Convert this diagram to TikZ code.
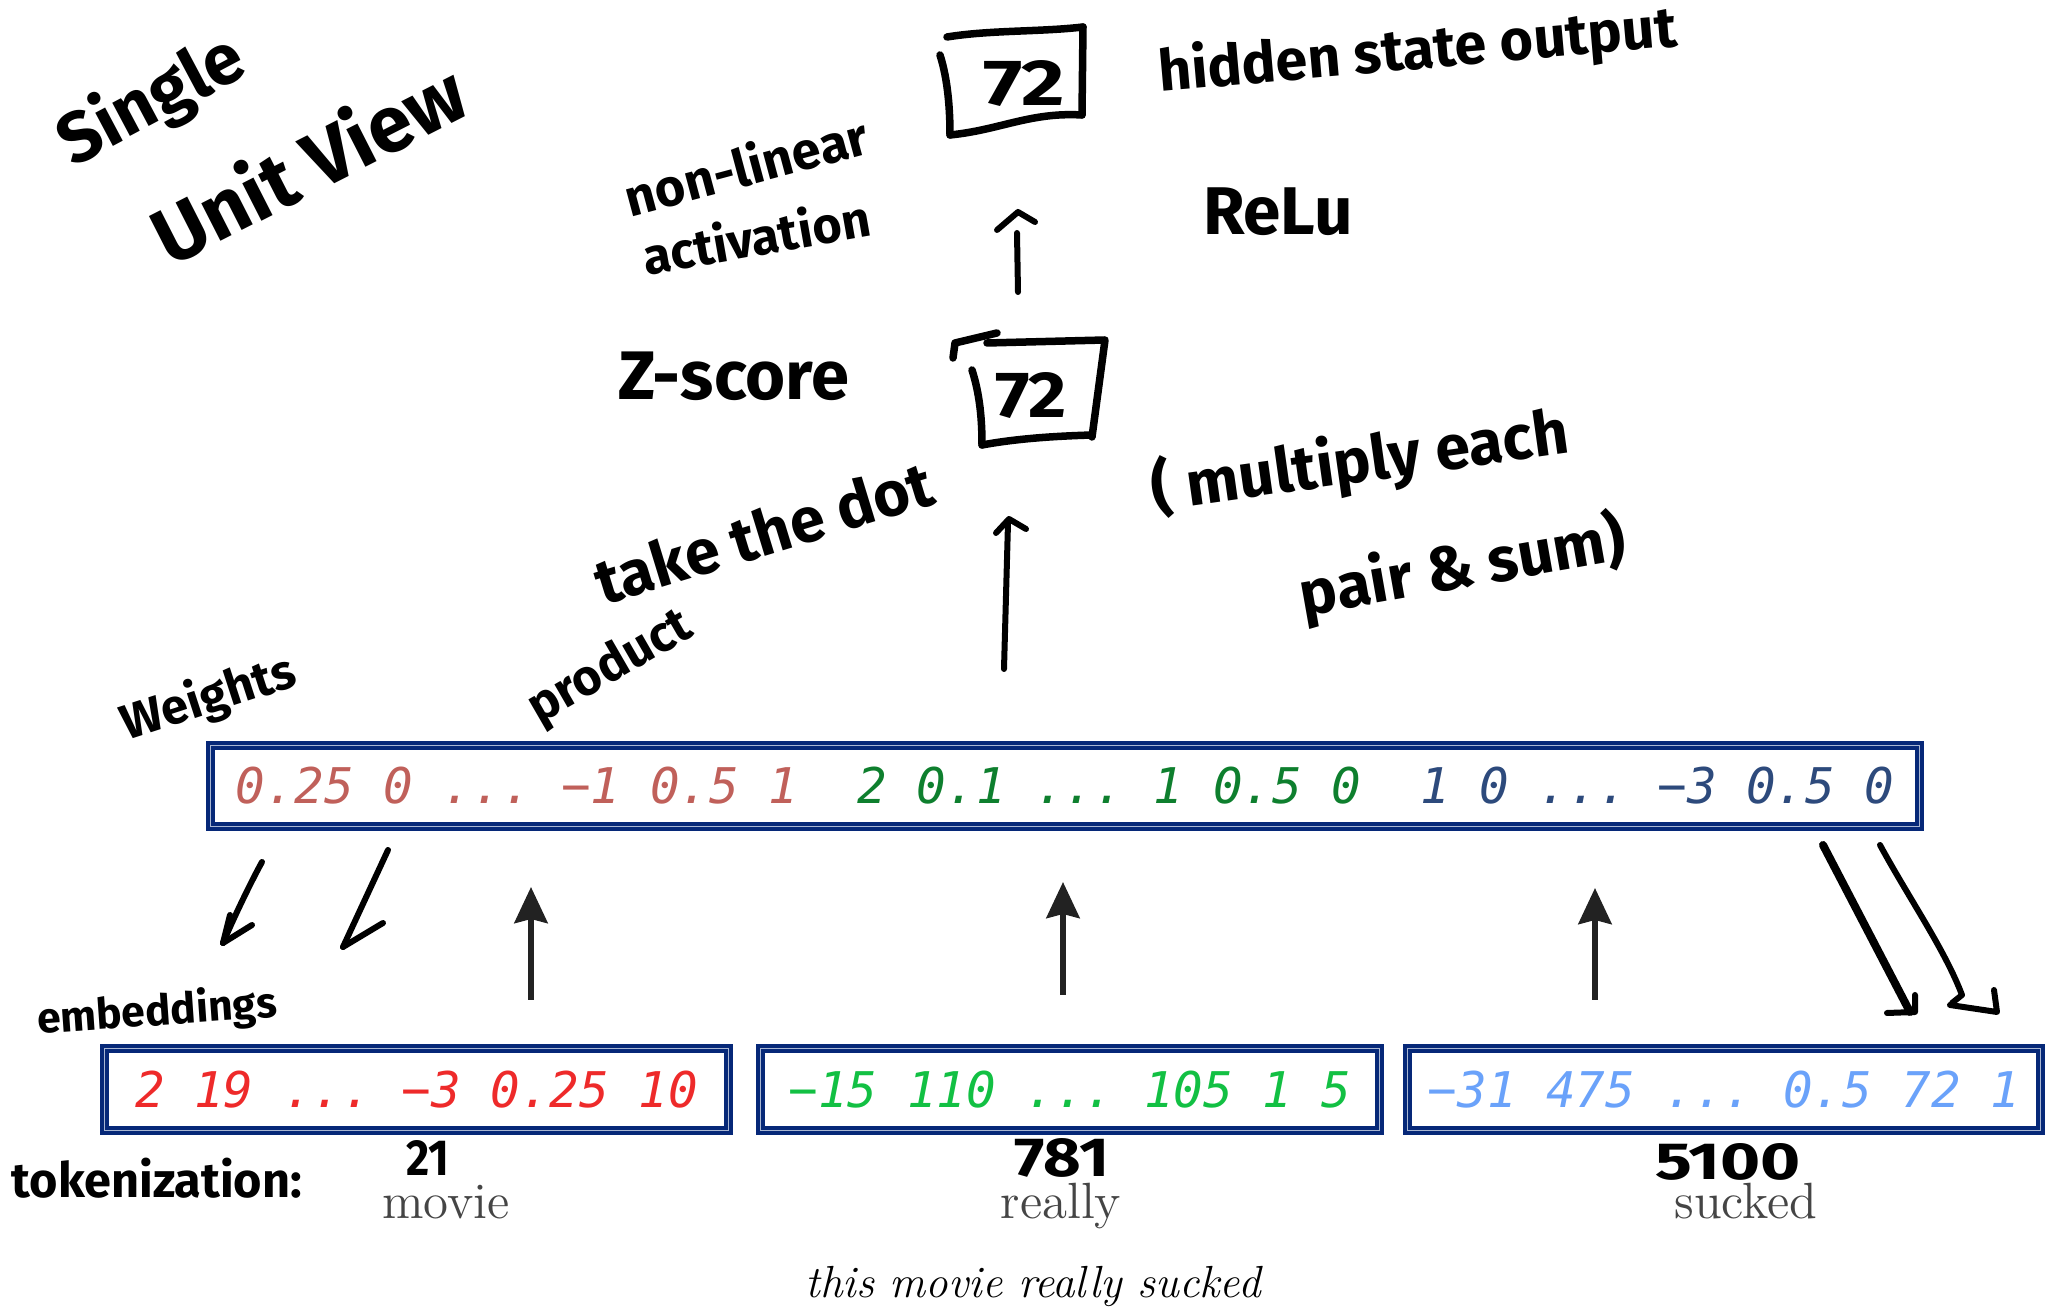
\documentclass[tikz,border=0pt]{standalone}
\usepackage{fontspec}
\usepackage{graphicx}
\usetikzlibrary{arrows.meta}
\newfontfamily\codefont{DejaVu Sans Mono}
\newfontfamily\handfont{Fira Sans}
\definecolor{navy}{HTML}{062878}
\definecolor{innerline}{HTML}{A8B6D2}
\definecolor{wA}{HTML}{C0605A}
\definecolor{wB}{HTML}{0E7F2E}
\definecolor{wC}{HTML}{2D4A7C}
\definecolor{eA}{HTML}{EE2A2A}
\definecolor{eB}{HTML}{12C043}
\definecolor{eC}{HTML}{6AA2FA}
\definecolor{wordgray}{HTML}{454545}
\definecolor{arrowgray}{HTML}{222222}
\frenchspacing
\tikzset{
  vecbox/.style={draw=navy, line width=0.9mm, inner sep=0pt,
    font=\codefont\itshape\fontsize{14pt}{16pt}\selectfont},
  innerrule/.style={draw=innerline, line width=0.12mm},
  hand/.style={font=\handfont\bfseries, inner sep=0pt, text=black},
  handline/.style={line width=0.6mm, line cap=round, line join=round},
  boxline/.style={line width=0.75mm, line cap=round, line join=round},
  embarrow/.style={draw=arrowgray, line width=0.6mm,
    -{Stealth[length=3.6mm,width=3.3mm,inset=0.4mm]}},
  word/.style={text=wordgray, font=\fontsize{14.5pt}{17pt}\selectfont, inner sep=0pt}
}
\begin{document}
\begin{tikzpicture}[x=0.1mm,y=-0.1mm]
\useasboundingbox (0,0) rectangle (2049,1313);
\fill[white] (0,0) rectangle (2049,1313);

% weights vector
\node[vecbox, minimum width=171.0mm, minimum height=8.15mm] (W) at (1065,786)
  {{\color{wA}0.25 0 ... −1 0.5 1}~~{\color{wB}2 0.1 ... 1 0.5 0}~~{\color{wC}1 0 ... −3 0.5 0}};

% embedding vectors
\node[vecbox, minimum width=62.4mm, minimum height=8.2mm, text=eA] (E1) at (416.5,1089.5)
  {2 19 ... −3 0.25 10};
\node[vecbox, minimum width=61.9mm, minimum height=8.2mm, text=eB] (E2) at (1070,1089.5)
  {−15 110 ... 105 1 5};
\node[vecbox, minimum width=63.3mm, minimum height=8.2mm, text=eC] (E3) at (1724,1089.5)
  {−31 475 ... 0.5 72 1};
\foreach \b in {W,E1,E2,E3}
  \draw[innerrule] ([shift={(4.8,4.8)}]\b.north west) rectangle ([shift={(-4.8,-4.8)}]\b.south east);

% printed arrows from embeddings to weights
\coordinate (a1s) at (531,1000);  \coordinate (a1e) at (531,887);
\coordinate (a2s) at (1063,995);  \coordinate (a2e) at (1063,882);
\coordinate (a3s) at (1595,1000); \coordinate (a3e) at (1595,888);
\draw[embarrow] (a1s) -- (a1e);
\draw[embarrow] (a2s) -- (a2e);
\draw[embarrow] (a3s) -- (a3e);

% words
\node[word, anchor=base] (wmovie) at (446,1219) {movie};
\node[word, anchor=base] (wreally) at (1061,1219) {really};
\node[word, anchor=base] (wsucked) at (1746,1219) {sucked};
\node[anchor=base, inner sep=0pt, font=\itshape\fontsize{12.8pt}{15pt}\selectfont] (sent) at (1033,1298)
  {this movie really sucked};

% handwritten labels
\node[hand, rotate=28] (single) at (152,102) {\resizebox{20mm}{!}{Single}};
\node[hand, rotate=27] (unitview) at (308,162) {\resizebox{34mm}{!}{Unit View}};
\node[hand, rotate=15] (nonlinear) at (746,165) {\resizebox{25mm}{!}{non-linear}};
\node[hand, rotate=10] (activation) at (756,236) {\resizebox{23mm}{!}{activation}};
\node[hand, rotate=5] (hidden) at (1418,52) {\resizebox{52mm}{!}{hidden state output}};
\node[hand] (relu) at (1278,212) {\resizebox{15mm}{!}{ReLu}};
\node[hand] (zscore) at (734,376) {\resizebox{23mm}{!}{Z-score}};
\node[hand, rotate=8] (multiply) at (1360,462) {\resizebox{42mm}{!}{( multiply each}};
\node[hand, rotate=10] (pairsum) at (1463,568) {\resizebox{33mm}{!}{pair \& sum)}};
\node[hand, rotate=17] (takedot) at (764,532) {\resizebox{35mm}{!}{take the dot}};
\node[hand, rotate=30] (product) at (611,668) {\resizebox{18mm}{!}{product}};
\node[hand, rotate=18] (weights) at (209,699) {\resizebox{18mm}{!}{Weights}};
\node[hand, rotate=4] (embeddings) at (157,1013) {\resizebox{24mm}{!}{embeddings}};
\node[hand] (tokenization) at (157,1178) {\resizebox{29mm}{!}{tokenization:}};
\node[hand] (t21) at (428,1158) {\resizebox{4.3mm}{3.5mm}{21}};
\node[hand] (t781) at (1062,1158) {\resizebox{9.5mm}{3.8mm}{781}};
\node[hand] (t5100) at (1728,1162) {\resizebox{14.5mm}{3.6mm}{5100}};

% hidden state box
\node[hand] (h72) at (1024,84) {\resizebox{8.2mm}{4.5mm}{72}};
\draw[boxline] (947,37) .. controls (990,30) and (1040,32) .. (1083,27);
\draw[boxline] (1083,27) -- (1082,115);
\draw[boxline] (940,55) .. controls (948,80) and (950,110) .. (950,135);
\draw[boxline] (950,135) .. controls (1000,130) and (1030,112) .. (1082,115);

% z-score box
\node[hand] (z72) at (1031,396) {\resizebox{7.2mm}{4.5mm}{72}};
\draw[boxline] (953,358) -- (955,343) -- (997,333);
\draw[boxline] (987,343) -- (1105,340) -- (1092,437);
\draw[boxline] (972,370) .. controls (980,395) and (982,420) .. (982,445);
\draw[boxline] (982,445) .. controls (1020,438) and (1060,436) .. (1092,435);

% handwritten up arrows
\coordinate (u1s) at (1018,292); \coordinate (u1e) at (1017,233);
\draw[handline] (u1s) -- (u1e);
\draw[handline] (997,230) -- (1018,212) -- (1035,222);
\coordinate (u2s) at (1004,669); \coordinate (u2e) at (1008,523);
\draw[handline] (u2s) -- (u2e);
\draw[handline] (996,533) -- (1009,519) -- (1026,529);

% handwritten down-left arrows
\coordinate (l1s) at (262,862); \coordinate (l1e) at (223,943);
\draw[handline] (l1s) .. controls (252,880) and (235,915) .. (l1e);
\draw[handline] (l1e) -- (252,925);
\draw[handline] (230,915) -- (l1e);
\coordinate (l2s) at (388,850); \coordinate (l2e) at (343,947);
\draw[handline] (l2s) -- (l2e);
\draw[handline] (l2e) -- (383,923);

% handwritten down-right arrows
\coordinate (r1s) at (1823,845); \coordinate (r1e) at (1910,1012);
\draw[line width=0.8mm, line cap=round] (r1s) -- (r1e);
\draw[handline] (1887,1013) -- (1915,1012) -- (1915,995);
\coordinate (r2s) at (1880,845); \coordinate (r2e) at (1962,995);
\draw[handline] (r2s) .. controls (1910,900) and (1945,950) .. (r2e) -- (1952,1003);
\draw[handline] (1950,1005) -- (1997,1012) -- (1994,990);
\end{tikzpicture}
\end{document}
